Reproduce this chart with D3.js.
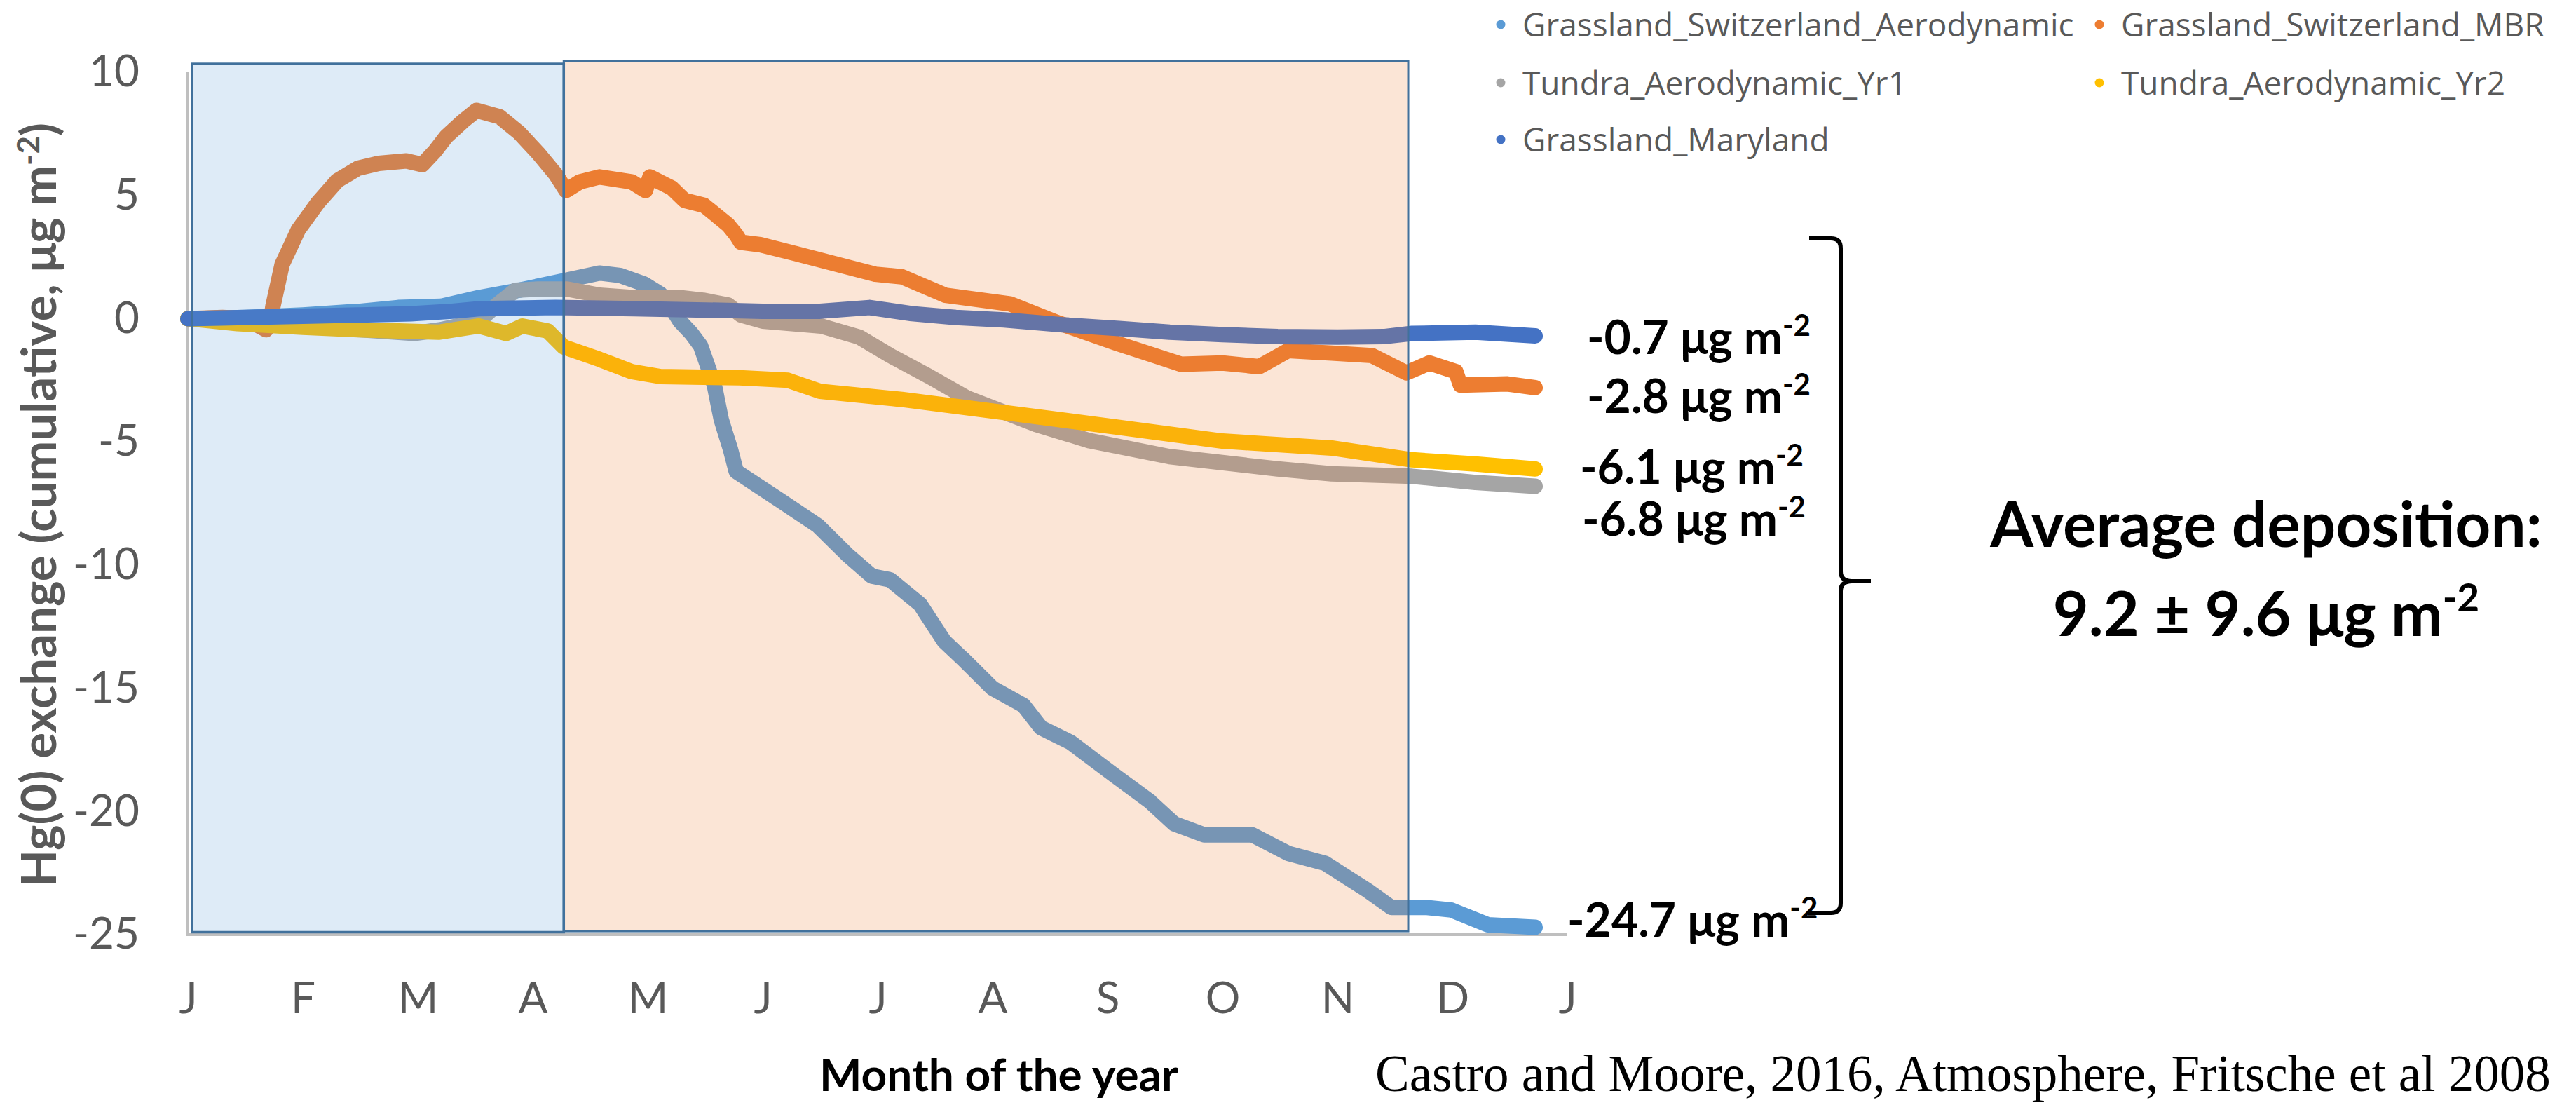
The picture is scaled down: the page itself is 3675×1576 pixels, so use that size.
<!DOCTYPE html>
<html>
<head>
<meta charset="utf-8">
<script src="https://cdn.jsdelivr.net/npm/d3@7"></script>
<style>
  html, body { margin: 0; padding: 0; background: #ffffff; }
  svg { display: block; }
</style>
</head>
<body>
<svg id="chart" width="3675" height="1576"></svg>
<script>
// ---- data -------------------------------------------------------------
// x = position along the year in months (0 = 1 Jan, 12 = next 1 Jan)
// y = cumulative Hg(0) exchange, µg m-2
const monthLabels = ["J","F","M","A","M","J","J","A","S","O","N","D","J"];
const yTickValues = [10, 5, 0, -5, -10, -15, -20, -25];

const seriesNames = [
  "Grassland_Switzerland_Aerodynamic",
  "Grassland_Switzerland_MBR",
  "Tundra_Aerodynamic_Yr1",
  "Tundra_Aerodynamic_Yr2",
  "Grassland_Maryland"
];
const seriesColors = ["#5B9BD5", "#ED7D31", "#A5A5A5", "#FFC000", "#4472C4"];

const switzerlandAerodynamic = [
  [0,0],[0.5,0.05],[1.0,0.15],[1.5,0.3],[1.83,0.45],[2.2,0.5],[2.53,0.85],[2.88,1.15],
  [3.23,1.5],[3.58,1.85],[3.76,1.75],[3.97,1.4],[4.11,1.0],[4.2,0.5],[4.28,-0.1],
  [4.38,-0.6],[4.46,-1.1],[4.52,-1.9],[4.58,-2.7],[4.64,-4.1],[4.72,-5.3],[4.77,-6.2],
  [5.16,-7.4],[5.48,-8.4],[5.74,-9.6],[5.95,-10.45],[6.11,-10.6],[6.37,-11.6],[6.58,-13.1],
  [6.74,-13.8],[7.0,-15.0],[7.27,-15.7],[7.42,-16.6],[7.68,-17.2],[8.05,-18.5],[8.37,-19.6],
  [8.58,-20.5],[8.84,-20.95],[9.26,-20.95],[9.57,-21.7],[9.89,-22.1],[10.26,-23.2],
  [10.47,-23.9],[10.78,-23.9],[10.99,-24.0],[11.31,-24.6],[11.72,-24.7]
];
const switzerlandMBR = [
  [0,0],[0.3,0.05],[0.54,0.0],[0.62,-0.3],[0.68,-0.45],[0.72,-0.1],[0.74,0.5],[0.82,2.2],
  [0.96,3.6],[1.13,4.7],[1.3,5.6],[1.48,6.1],[1.66,6.3],[1.9,6.4],[2.04,6.25],[2.15,6.8],
  [2.25,7.4],[2.39,8.0],[2.51,8.45],[2.71,8.2],[2.88,7.55],[3.05,6.7],[3.2,5.85],[3.29,5.2],
  [3.41,5.55],[3.58,5.75],[3.86,5.55],[3.98,5.2],[4.02,5.75],[4.21,5.3],[4.32,4.8],[4.49,4.6],
  [4.7,3.8],[4.77,3.4],[4.81,3.1],[4.98,3.0],[5.28,2.65],[5.98,1.8],[6.21,1.7],[6.59,0.95],
  [7.15,0.6],[7.57,-0.17],[8.08,-1.0],[8.64,-1.85],[9.0,-1.8],[9.32,-1.95],[9.57,-1.3],
  [9.95,-1.4],[10.3,-1.5],[10.6,-2.2],[10.8,-1.8],[11.03,-2.15],[11.07,-2.7],[11.48,-2.65],
  [11.72,-2.8]
];
const tundraYr1 = [
  [0,0],[0.5,-0.15],[1.0,-0.3],[1.5,-0.45],[1.97,-0.6],[2.2,-0.45],[2.53,-0.1],[2.7,0.6],
  [2.85,1.15],[3.05,1.2],[3.3,1.2],[3.58,0.95],[3.88,0.85],[4.28,0.85],[4.48,0.75],[4.7,0.55],
  [4.81,0.15],[5.0,-0.1],[5.51,-0.3],[5.84,-0.75],[6.11,-1.5],[6.45,-2.35],[6.77,-3.2],
  [7.38,-4.3],[7.84,-4.95],[8.54,-5.6],[9.48,-6.1],[9.95,-6.3],[10.65,-6.4],[11.2,-6.65],
  [11.72,-6.8]
];
const tundraYr2 = [
  [0,0],[0.43,-0.2],[1.0,-0.35],[1.48,-0.45],[2.18,-0.55],[2.53,-0.3],[2.77,-0.6],[2.91,-0.3],
  [3.13,-0.5],[3.27,-1.15],[3.58,-1.65],[3.86,-2.15],[4.11,-2.35],[4.8,-2.4],[5.22,-2.5],
  [5.5,-2.95],[6.21,-3.28],[7.15,-3.84],[8.08,-4.4],[9.0,-4.97],[9.95,-5.25],[10.65,-5.73],
  [11.2,-5.9],[11.72,-6.1]
];
const grasslandMaryland = [
  [0,0],[0.5,0.05],[1.0,0.1],[1.5,0.15],[1.94,0.2],[2.3,0.3],[2.53,0.4],[3.2,0.45],[3.88,0.4],
  [4.5,0.35],[5.0,0.3],[5.5,0.3],[5.93,0.45],[6.3,0.2],[6.68,0.05],[7.1,-0.05],[7.61,-0.25],
  [8.1,-0.4],[8.54,-0.55],[9.0,-0.65],[9.48,-0.73],[10.0,-0.75],[10.4,-0.73],[10.65,-0.6],
  [11.2,-0.55],[11.72,-0.7]
];
const seriesData = [switzerlandAerodynamic, switzerlandMBR, tundraYr1, tundraYr2, grasslandMaryland];

// shaded seasons: [start month, end month, top value, bottom value]
const coldSeason = [0.037, 3.27, 10.34, -24.9];
const warmSeason = [3.27, 10.616, 10.46, -24.86];

// end-of-year totals written beside the lines (index into seriesData)
const endLabelOrder = [4, 1, 3, 2, 0];
const averageDeposition = [9.2, 9.6];

// ---- layout -----------------------------------------------------------
const svg = d3.select("#chart");
const x = d3.scaleLinear().domain([0, 12]).range([268, 2236]);
const y = d3.scaleLinear().domain([-25, 10]).range([1333, 103]);

const grey = "#595959";
const sans = "Lato, 'Open Sans', sans-serif";

// axis lines
svg.append("line").attr("x1", x(0)).attr("x2", x(0)).attr("y1", y(10)).attr("y2", y(-25))
  .attr("stroke", "#BFBFBF").attr("stroke-width", 4);
svg.append("line").attr("x1", x(0) - 2).attr("x2", x(12)).attr("y1", y(-25)).attr("y2", y(-25))
  .attr("stroke", "#BFBFBF").attr("stroke-width", 4);

// y axis labels
const yAxis = svg.append("g").attr("transform", `translate(${x(0)},0)`)
  .call(d3.axisLeft(y).tickValues(yTickValues).tickFormat(d => String(d)).tickSize(0).tickPadding(69));
yAxis.select(".domain").remove();
yAxis.selectAll("text").attr("font-family", sans).attr("font-size", 62).attr("fill", grey);

// x axis labels
const xAxis = svg.append("g").attr("transform", `translate(0,${y(-25)})`)
  .call(d3.axisBottom(x).tickValues(d3.range(13)).tickFormat(i => monthLabels[i]).tickSize(0).tickPadding(68));
xAxis.select(".domain").remove();
xAxis.selectAll("text").attr("font-family", sans).attr("font-size", 62).attr("fill", grey);

// series lines
const line = d3.line().x(d => x(d[0])).y(d => y(d[1]));
svg.append("g").selectAll("path").data(seriesData).join("path")
  .attr("d", line)
  .attr("fill", "none")
  .attr("stroke", (d, i) => seriesColors[i])
  .attr("stroke-width", 22)
  .attr("stroke-linecap", "round")
  .attr("stroke-linejoin", "round");

// translucent season boxes laid over the lines
function seasonBox(b, fill, sw) {
  svg.append("rect")
    .attr("x", x(b[0])).attr("y", y(b[2]))
    .attr("width", x(b[1]) - x(b[0])).attr("height", y(b[3]) - y(b[2]))
    .attr("fill", fill).attr("stroke", "#41719C").attr("stroke-width", sw);
}
seasonBox(warmSeason, "rgba(237,125,49,0.2)", 3);
seasonBox(coldSeason, "rgba(91,155,213,0.2)", 3.5);

// y axis title
const yTitle = svg.append("text")
  .attr("transform", "translate(80,720) rotate(-90)")
  .attr("text-anchor", "middle")
  .attr("font-family", sans).attr("font-weight", 700).attr("font-size", 69).attr("fill", grey);
yTitle.append("tspan").text("Hg(0) exchange (cumulative, \u03bcg m");
yTitle.append("tspan").attr("font-size", 44).attr("dy", -24).text("-2");
yTitle.append("tspan").attr("dy", 24).text(")");

// x axis title
svg.append("text").attr("x", 1425).attr("y", 1556).attr("text-anchor", "middle")
  .attr("font-family", sans).attr("font-weight", 700).attr("font-size", 64).attr("fill", "#000")
  .text("Month of the year");

// legend
const legendPos = [[2141, 35], [2995, 35], [2141, 118], [2995, 118], [2141, 199]];
const legend = svg.append("g").selectAll("g").data(seriesNames).join("g")
  .attr("transform", (d, i) => `translate(${legendPos[i][0]},${legendPos[i][1]})`);
legend.append("circle").attr("r", 6.5).attr("fill", (d, i) => seriesColors[i]);
legend.append("text").attr("x", 31).attr("dy", "0.36em")
  .attr("font-family", "'Open Sans', Lato, sans-serif").attr("font-size", 46).attr("fill", grey).text(d => d);

// end-of-year value labels
const endLabelPos = [[2264, 505], [2264, 589], [2254, 690], [2257, 764], [2236, 1336]];
endLabelOrder.forEach((si, k) => {
  const v = seriesData[si][seriesData[si].length - 1][1];
  const t = svg.append("text").attr("x", endLabelPos[k][0]).attr("y", endLabelPos[k][1])
    .attr("font-family", sans).attr("font-weight", 700).attr("font-size", 66).attr("fill", "#000");
  t.append("tspan").text(`${d3.format(".1f")(v).replace("\u2212", "-")} \u03bcg m`);
  t.append("tspan").attr("font-size", 42).attr("dy", -26).text("-2");
});

// curly brace grouping the five totals
svg.append("path")
  .attr("d", "M2581,340 L2612,340 Q2626,340 2626,354 L2626,815 Q2626,829 2642,829 L2669,829" +
             " M2642,829 Q2626,829 2626,843 L2626,1288 Q2626,1302 2612,1302 L2579,1302")
  .attr("fill", "none").attr("stroke", "#000").attr("stroke-width", 6);

// average deposition summary
svg.append("text").attr("x", 3233).attr("y", 780).attr("text-anchor", "middle")
  .attr("font-family", sans).attr("font-weight", 700).attr("font-size", 89).attr("fill", "#000")
  .text("Average deposition:");
const avg = svg.append("text").attr("x", 3233).attr("y", 907).attr("text-anchor", "middle")
  .attr("font-family", sans).attr("font-weight", 700).attr("font-size", 88).attr("fill", "#000");
avg.append("tspan").text(`${averageDeposition[0]} \u00b1 ${averageDeposition[1]} \u03bcg m`);
avg.append("tspan").attr("font-size", 55).attr("dy", -35).text("-2");

// source
svg.append("text").attr("x", 1962).attr("y", 1556)
  .attr("font-family", "'Liberation Serif', 'Times New Roman', serif").attr("font-size", 73).attr("fill", "#000")
  .text("Castro and Moore, 2016, Atmosphere, Fritsche et al 2008");
</script>
</body>
</html>
